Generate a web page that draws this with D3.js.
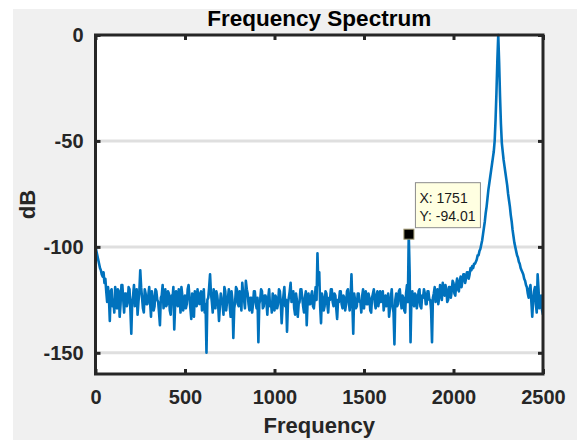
<html>
<head>
  <title>Frequency Spectrum</title>
  <script src="https://d3js.org/d3.v7.min.js" charset="utf-8"></script>
  <style>
    body { margin: 0; background: #fff; }
    text { font-family: "Liberation Sans", Arial, sans-serif; }
  </style>
</head>
<body>
  <script>
    var width = 577,
        height = 440;

    // sampled every 5 Hz, 0 .. 2500 (one row = 100 Hz)
    var freqStep = 5;
    var dB = [
      -100, -102, -104, -106, -108, -110, -111, -113, -114, -112, -117, -115, -121, -126, -119, -124, -135, -121, -120, -128,
      -125, -131, -119, -123, -129, -120, -121, -133, -127, -118, -118, -125, -131, -122, -122, -128, -126, -119, -120, -130,
      -141, -126, -123, -118, -128, -124, -120, -132, -126, -121, -111, -119, -124, -129, -131, -120, -122, -127, -127, -123,
      -119, -126, -133, -121, -124, -130, -128, -120, -121, -125, -126, -131, -137, -124, -123, -118, -129, -126, -120, -128,
      -127, -121, -122, -130, -132, -123, -125, -119, -139, -127, -121, -126, -128, -120, -124, -131, -119, -123, -130, -125,
      -123, -129, -127, -120, -118, -124, -129, -134, -122, -126, -133, -121, -124, -128, -120, -125, -127, -122, -121, -130,
      -126, -120, -131, -127, -150, -125, -124, -119, -113, -122, -126, -131, -120, -124, -129, -121, -123, -127, -135, -128,
      -122, -125, -127, -132, -119, -121, -130, -126, -124, -120, -128, -133, -121, -125, -143, -129, -126, -119, -120, -127,
      -128, -121, -123, -130, -117, -122, -125, -129, -116, -120, -122, -127, -130, -124, -124, -131, -127, -121, -121, -126,
      -129, -124, -145, -127, -125, -120, -121, -129, -128, -123, -123, -126, -132, -124, -120, -128, -126, -131, -122, -125,
      -130, -123, -124, -129, -127, -120, -121, -126, -136, -128, -123, -119, -128, -125, -140, -127, -124, -121, -117, -126,
      -125, -121, -129, -132, -122, -125, -133, -127, -126, -120, -120, -124, -128, -131, -124, -121, -137, -126, -122, -127,
      -127, -123, -121, -128, -129, -124, -119, -125, -103, -118, -112, -128, -136, -122, -124, -130, -128, -121, -122, -127,
      -131, -124, -125, -120, -120, -126, -128, -122, -123, -129, -134, -125, -126, -121, -121, -127, -129, -123, -124, -130,
      -127, -121, -120, -126, -130, -124, -113, -127, -141, -122, -125, -129, -128, -122, -122, -126, -126, -131, -123, -120,
      -129, -123, -121, -127, -127, -122, -124, -130, -131, -124, -122, -120, -126, -129, -123, -121, -128, -125, -121, -126,
      -125, -121, -130, -126, -123, -128, -127, -122, -133, -129, -124, -120, -128, -131, -146, -125, -122, -128, -127, -121,
      -120, -125, -129, -123, -124, -130, -131, -122, -118, -126, -94.01, -112, -145, -124, -121, -127, -128, -122, -123, -129,
      -126, -121, -120, -128, -129, -123, -124, -120, -122, -127, -127, -121, -121, -125, -125, -130, -145, -124, -122, -119,
      -126, -121, -120, -127, -124, -118, -119, -125, -117, -121, -123, -118, -120, -126, -125, -119, -119, -124, -121, -116,
      -117, -122, -123, -118, -115, -120, -121, -116, -114, -119, -116, -113, -113, -117, -115, -112, -112, -115, -113, -110,
      -111, -109, -110, -108, -108, -107, -106, -104, -104, -102, -101, -99, -97, -94, -91, -88, -84, -81, -77, -73,
      -70, -67, -64, -61, -58, -55, -50, -40, -27, -12, 0, -13, -29, -42, -51, -55, -59, -62, -65, -68,
      -71, -75, -78, -81, -85, -88, -92, -95, -98, -100, -102, -104, -105, -107, -108, -110, -111, -112, -113, -115,
      -116, -118, -119, -122, -124, -120, -118, -126, -133, -125, -121, -119, -127, -131, -113, -120, -129, -126, -123, -130,
      -132
    ];

    var xTicks = [0, 500, 1000, 1500, 2000, 2500];
    var yTicks = [-150, -100, -50, 0];
    var gridValues = [-150, -100, -50];

    var tipX = 1751,
        tipY = -94.01;

    var pLeft = 95.5, pRight = 543, pTop = 35, pBottom = 374;

    var svg = d3.select("body")
                .append("svg")
                .attr("width", width)
                .attr("height", height);

    // figure background
    svg.append("rect")
       .attr("x", 13).attr("y", 9)
       .attr("width", width - 13).attr("height", height - 9)
       .attr("fill", "#f0f0f0");

    svg.append("rect")
       .attr("x", pLeft).attr("y", pTop)
       .attr("width", pRight - pLeft).attr("height", pBottom - pTop)
       .attr("fill", "#fff");

    var x = d3.scaleLinear().domain([0, 2500]).range([pLeft, pRight]);
    var y = d3.scaleLinear().domain([-160, 0]).range([pBottom, pTop]);

    // horizontal grid
    svg.selectAll(".grid")
       .data(gridValues)
       .enter()
       .append("line")
       .attr("x1", pLeft).attr("x2", pRight)
       .attr("y1", function(d) { return y(d); })
       .attr("y2", function(d) { return y(d); })
       .attr("stroke", "#dfdfdf")
       .attr("stroke-width", 3);

    svg.append("clipPath")
       .attr("id", "clip")
       .append("rect")
       .attr("x", pLeft).attr("y", pTop - 2)
       .attr("width", pRight - pLeft).attr("height", pBottom - pTop + 2);

    var line = d3.line()
                 .x(function(d, i) { return x(i * freqStep); })
                 .y(function(d) { return y(d); });

    svg.append("path")
       .datum(dB)
       .attr("clip-path", "url(#clip)")
       .attr("d", line)
       .attr("fill", "none")
       .attr("stroke", "#0072BD")
       .attr("stroke-width", 2.6)
       .attr("stroke-linejoin", "round");

    // axes
    function plain(d) { return String(d); }

    function styleAxis(g) {
      g.select(".domain").remove();
      g.selectAll(".tick line").attr("stroke", "#262626").attr("stroke-width", 3);
      g.selectAll(".tick text")
       .attr("fill", "#262626")
       .style("font-size", "20px")
       .style("font-weight", "bold");
    }

    svg.append("g")
       .attr("transform", "translate(0," + pBottom + ")")
       .call(d3.axisBottom(x).tickValues(xTicks).tickSizeInner(-5).tickSizeOuter(0)
               .tickPadding(16).tickFormat(plain))
       .call(styleAxis);

    svg.append("g")
       .attr("transform", "translate(0," + pTop + ")")
       .call(d3.axisTop(x).tickValues(xTicks).tickSizeInner(-5).tickSizeOuter(0).tickFormat(""))
       .call(styleAxis);

    svg.append("g")
       .attr("transform", "translate(" + pLeft + ",0)")
       .call(d3.axisLeft(y).tickValues(yTicks).tickSizeInner(-5).tickSizeOuter(0)
               .tickPadding(12).tickFormat(plain))
       .call(styleAxis);

    svg.append("g")
       .attr("transform", "translate(" + pRight + ",0)")
       .call(d3.axisRight(y).tickValues(yTicks).tickSizeInner(-5).tickSizeOuter(0).tickFormat(""))
       .call(styleAxis);

    // box
    svg.append("rect")
       .attr("x", pLeft).attr("y", pTop)
       .attr("width", pRight - pLeft).attr("height", pBottom - pTop)
       .attr("fill", "none")
       .attr("stroke", "#262626")
       .attr("stroke-width", 3);

    // labels
    svg.append("text")
       .attr("x", (pLeft + pRight) / 2).attr("y", 26)
       .attr("text-anchor", "middle")
       .style("font-size", "22.5px").style("font-weight", "bold")
       .attr("fill", "#000")
       .text("Frequency Spectrum");

    svg.append("text")
       .attr("x", (pLeft + pRight) / 2).attr("y", 433)
       .attr("text-anchor", "middle")
       .style("font-size", "22px").style("font-weight", "bold")
       .attr("fill", "#262626")
       .text("Frequency");

    svg.append("text")
       .attr("transform", "translate(35," + (pTop + pBottom) / 2 + ") rotate(-90)")
       .attr("text-anchor", "middle")
       .style("font-size", "22px").style("font-weight", "bold")
       .attr("fill", "#262626")
       .text("dB");

    // data tip
    var mx = x(tipX), my = y(tipY);

    svg.append("rect")
       .attr("x", mx - 5).attr("y", my - 5)
       .attr("width", 10).attr("height", 10)
       .attr("fill", "#000")
       .attr("stroke", "#a09870")
       .attr("stroke-width", 1);

    var tip = svg.append("g")
                 .attr("transform", "translate(" + (mx + 6.5) + "," + (my - 51.5) + ")");

    tip.append("rect")
       .attr("width", 65).attr("height", 45)
       .attr("fill", "#ffffe1")
       .attr("stroke", "#8c8c8c")
       .attr("stroke-width", 1);

    tip.append("text")
       .attr("x", 4).attr("y", 20)
       .style("font-size", "14px")
       .attr("fill", "#1a1a1a")
       .text("X: " + tipX);

    tip.append("text")
       .attr("x", 4).attr("y", 38)
       .style("font-size", "14px")
       .attr("fill", "#1a1a1a")
       .text("Y: " + tipY.toFixed(2));
  </script>
</body>
</html>
